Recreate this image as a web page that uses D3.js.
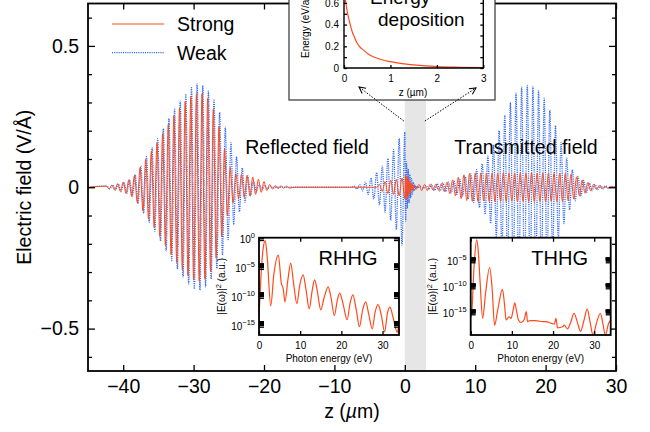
<!DOCTYPE html>
<html>
<head>
<meta charset="utf-8">
<script src="https://cdn.jsdelivr.net/npm/d3@7"></script>
<style>
  body { margin: 0; background: #fff; }
  svg { display: block; }
</style>
</head>
<body>
<svg id="chart" width="650" height="432"></svg>
<script>
// ---- main plot ticks / names
const zTicks = [-40, -30, -20, -10, 0, 10, 20, 30];
const fieldTicks = [-0.5, 0, 0.5];
const seriesNames = ["Strong", "Weak"];
const targetZone = [0, 3];

// field extrema read per half cycle (V/Å): block start z, step, values
const weakBlocks = [
  { z0: -42.3, dz: 0.4, e: [
    0.004, -0.006, 0.008, -0.01, 0.012, -0.015, 0.018, -0.022, 0.027, -0.033,
    0.045, -0.058, 0.075, -0.092, 0.108, -0.124, 0.14, -0.156, 0.172, -0.19,
    0.207, -0.225, 0.243, -0.26, 0.276, -0.29, 0.305, -0.318, 0.33, -0.342,
    0.352, -0.36, 0.366, -0.364, 0.36, -0.352, 0.34, -0.325, 0.308, -0.288,
    0.265, -0.24, 0.213, -0.185, 0.158, -0.132, 0.108, -0.087, 0.068, -0.053,
    0.04, -0.03, 0.022, -0.016, 0.012, -0.009, 0.007, -0.005, 0.004, -0.003] },
  { z0: -7.2, dz: 0.4, e: [
    0.004, -0.006, 0.009, -0.013, 0.018, -0.025, 0.033, -0.042, 0.052, -0.063,
    0.075, -0.088, 0.102, -0.117, 0.133, -0.15, 0.172, -0.205, 0.195] },
  { z0: 0.12, dz: 0.12, e: [
    -0.12, 0.09, -0.075, 0.065, -0.055, 0.045, -0.038, 0.03, -0.024, 0.018,
    -0.013, 0.009, -0.006, 0.004, -0.002] },
  { z0: 2.2, dz: 0.4, e: [
    0.003, -0.004, 0.006, -0.008, 0.01, -0.012, 0.012, -0.014, 0.015, -0.016,
    0.018, -0.02, 0.022, -0.025, 0.028, -0.032, 0.036, -0.041, 0.047, -0.054,
    0.062, -0.072, 0.083, -0.096, 0.11, -0.128, 0.15, -0.175, 0.2, -0.228,
    0.255, -0.28, 0.3, -0.318, 0.333, -0.345, 0.354, -0.359, 0.36, -0.359,
    0.356, -0.35, 0.342, -0.33, 0.315, -0.296, 0.273, -0.247, 0.218, -0.188,
    0.158, -0.129, 0.103, -0.08, 0.062, -0.048, 0.038, -0.03, 0.024, -0.019,
    0.015, -0.012, 0.01, -0.008, 0.006, -0.005, 0.004, -0.003, 0.002] }
];
const weakZeros = [-45, -18.4, -7.6, 30];

const strongBlocks = [
  { z0: -42.4, dz: 0.4, e: [
    0.004, -0.006, 0.008, -0.01, 0.012, -0.015, 0.018, -0.022, 0.026, -0.032,
    0.042, -0.054, 0.069, -0.084, 0.099, -0.113, 0.128, -0.143, 0.158, -0.174,
    0.19, -0.206, 0.222, -0.238, 0.253, -0.267, 0.28, -0.292, 0.303, -0.313,
    0.321, -0.327, 0.331, -0.332, 0.33, -0.324, 0.314, -0.298, 0.276, -0.25,
    0.215, -0.175, 0.135, -0.1, 0.07, -0.055, 0.048, -0.04, 0.045, -0.035,
    0.042, -0.03, 0.036, -0.025, 0.028, -0.018, 0.02, -0.012, 0.01, -0.006,
    0.006, -0.005, 0.005, -0.004, 0.004, -0.003] },
  { z0: -3.6, dz: 0.4, e: [
    0.01, -0.015, 0.02, -0.022, 0.025, -0.025, 0.028, -0.03, 0.032, -0.04] },
  { z0: 0.1, dz: 0.1, e: [
    0.045, -0.042, 0.038, -0.035, 0.03, -0.026, 0.022, -0.018, 0.015, -0.012,
    0.01, -0.008, 0.006] },
  { z0: 1.6, dz: 0.4, e: [
    -0.008, 0.01, -0.012, 0.01, -0.012, 0.01, -0.01, 0.01, -0.011, 0.013,
    -0.015, 0.018, -0.022, 0.026, -0.03, 0.035, -0.04, 0.044, -0.047, 0.049,
    -0.05, 0.05, -0.051, 0.05, -0.049, 0.05, -0.051, 0.05, -0.05, 0.049,
    -0.05, 0.051, -0.05, 0.05, -0.049, 0.05, -0.051, 0.05, -0.05, 0.049,
    -0.05, 0.051, -0.05, 0.05, -0.049, 0.05, -0.051, 0.05, -0.05, 0.049,
    -0.05, 0.05, -0.05, 0.049, -0.048, 0.046, -0.042, 0.037, -0.031, 0.026,
    -0.021, 0.017, -0.013, 0.01, -0.008, 0.006, -0.005, 0.004, -0.003, 0.002] }
];
const strongZeros = [-45, -15.6, -4.0, 30];

// ---- energy deposition inset
const depZ = [0, 0.02, 0.04, 0.07, 0.1, 0.14, 0.18, 0.22, 0.27, 0.33, 0.42, 0.52, 0.63, 0.8, 1.0, 1.25, 1.5, 1.75, 2.0, 2.5, 3.0];
const depE = [0.76, 0.67, 0.6, 0.52, 0.46, 0.39, 0.33, 0.29, 0.24, 0.2, 0.165, 0.13, 0.104, 0.078, 0.058, 0.04, 0.028, 0.019, 0.013, 0.007, 0.003];
const depZTicks = [0, 1, 2, 3];
const depETicks = [0, 0.2, 0.4, 0.6];

// ---- harmonic spectra (photon energy eV, log10 |E(w)|^2)
const photonTicks = [0, 10, 20, 30];
const rhhgEv = [0, 0.5, 1.0, 1.5, 2.0, 2.85, 3.6, 4.7, 5.4, 5.9, 6.3, 7.0, 7.7, 8.4, 9.2, 9.9, 10.7, 11.4, 12.2, 12.9, 13.5, 14.2, 15.0, 15.8, 16.8, 17.5, 18.3, 19.0, 19.6, 20.4, 21.4, 22.1, 22.8, 23.6, 24.4, 25.2, 25.9, 26.7, 27.5, 28.2, 28.9, 29.7, 30.5, 31.2, 31.8, 32.6, 33.6, 34.0];
const rhhgLog = [-13.3, -6, -1.5, -0.1, -3, -11.4, -6, -2.6, -7.4, -8.5, -10.7, -7, -4.0, -7.5, -11, -7.8, -6.05, -8.5, -11.9, -8.8, -6.9, -9, -12.1, -10, -8.1, -10, -13.1, -10.5, -9.2, -11, -13.8, -11, -9.5, -12, -15.0, -12, -10.7, -13, -15.4, -12.5, -11.2, -13, -15.9, -12.6, -11.6, -13.5, -16, -13.8];
const rhhgMajors = [0, -5, -10, -15];

const thhgEv = [0, 0.24, 0.8, 1.44, 1.8, 2.3, 2.9, 3.6, 4.6, 5.2, 5.8, 6.6, 7.7, 8.2, 8.6, 9.3, 9.8, 10.3, 10.7, 11.1, 11.6, 12.2, 13.0, 13.5, 13.8, 14.5, 15.5, 16.5, 17.5, 18.3, 19.5, 20.3, 20.7, 21.1, 22.3, 22.7, 23.5, 24.3, 25.1, 25.9, 26.7, 27.5, 28.3, 29.0, 29.7, 30.6, 31.5, 32.1, 32.7, 33.5, 34.0];
const thhgLog = [-15.5, -14.8, -6, -0.7, -2.5, -9, -15.8, -11, -6.0, -10, -17.1, -14, -10.2, -13, -16.1, -15.5, -15.8, -14.2, -12.8, -14.2, -16.1, -16.6, -16, -14.5, -16.4, -16.2, -16.2, -16.3, -16.4, -16.4, -16.7, -16.9, -15.8, -17.6, -17.4, -17.1, -17.8, -16.5, -14.8, -16.5, -18.3, -16.2, -14.0, -16.5, -19, -16.5, -14.8, -16.8, -19, -16.7, -16.2];
const thhgMajors = [-5, -10, -15];

// ---------------------------------------------------------------
const FONT = "'Liberation Sans', Arial, Helvetica, sans-serif";
const RED = "#ff4a1c";
const BLUE = "#2f66f0";
const MAIN_FS = 19.5;

const svg = d3.select("#chart").style("font-family", FONT);
const defs = svg.append("defs");

const x = d3.scaleLinear().domain([-45, 30]).range([88, 616]);
const y = d3.scaleLinear().domain([-0.65, 0.65]).range([371, 3.5]);
const [X0, X1] = x.range();
const [Y0, Y1] = y.range();

defs.append("clipPath").attr("id", "plotClip")
  .append("rect").attr("x", X0).attr("y", Y1).attr("width", X1 - X0).attr("height", Y0 - Y1);

const expand = (blocks, zeros) => {
  const pts = zeros.map(z => [z, 0]);
  blocks.forEach(b => b.e.forEach((v, i) => pts.push([+(b.z0 + i * b.dz).toFixed(3), v])));
  return pts.sort((a, b) => a[0] - b[0]);
};

// target zone shading
svg.append("rect")
  .attr("x", x(targetZone[0])).attr("y", Y1)
  .attr("width", x(targetZone[1]) - x(targetZone[0])).attr("height", Y0 - Y1)
  .attr("fill", "#e6e6e6");

const fieldLine = d3.line().x(d => x(d[0])).y(d => y(d[1])).curve(d3.curveMonotoneX);

const lines = svg.append("g").attr("clip-path", "url(#plotClip)");
lines.append("path")
  .attr("d", fieldLine(expand(weakBlocks, weakZeros)))
  .attr("fill", "none").attr("stroke", BLUE).attr("stroke-width", 1.3)
  .attr("stroke-dasharray", "1.1,1.1");
lines.append("path")
  .attr("d", fieldLine(expand(strongBlocks, strongZeros)))
  .attr("fill", "none").attr("stroke", RED).attr("stroke-width", 1);

// region labels
svg.append("text").attr("x", 307).attr("y", 154).attr("text-anchor", "middle")
  .attr("font-size", MAIN_FS).text("Reflected field");
svg.append("text").attr("x", 526).attr("y", 154).attr("text-anchor", "middle")
  .attr("font-size", MAIN_FS).text("Transmitted field");

// ---- axes of main plot
const styleAxis = (g, size) => {
  g.select(".domain").remove();
  g.selectAll("line").attr("stroke", "#000").attr("stroke-width", 1.3);
  g.selectAll("text").attr("font-size", size).attr("font-family", FONT).attr("fill", "#000");
};
const tenths = d3.range(-6, 7).map(i => i / 10);
const minorY = tenths.filter(v => !fieldTicks.some(t => Math.abs(t - v) < 1e-9));
const fmtField = d => d === 0 ? "0" : d3.format(".1f")(d);

svg.append("g").attr("transform", `translate(${X0},0)`)
  .call(d3.axisLeft(y).tickValues(minorY).tickSize(-4).tickFormat(""))
  .call(g => styleAxis(g, MAIN_FS));
svg.append("g").attr("transform", `translate(${X0},0)`)
  .call(d3.axisLeft(y).tickValues(fieldTicks).tickSize(-7).tickPadding(9).tickFormat(fmtField))
  .call(g => styleAxis(g, MAIN_FS));
svg.append("g").attr("transform", `translate(${X1},0)`)
  .call(d3.axisRight(y).tickValues(minorY).tickSize(-4).tickFormat(""))
  .call(g => styleAxis(g, MAIN_FS));
svg.append("g").attr("transform", `translate(${X1},0)`)
  .call(d3.axisRight(y).tickValues(fieldTicks).tickSize(-7).tickFormat(""))
  .call(g => styleAxis(g, MAIN_FS));
svg.append("g").attr("transform", `translate(0,${Y0})`)
  .call(d3.axisBottom(x).tickValues(zTicks).tickSize(-6).tickPadding(8).tickFormat(d3.format("d")))
  .call(g => styleAxis(g, MAIN_FS));
svg.append("g").attr("transform", `translate(0,${Y1})`)
  .call(d3.axisTop(x).tickValues(zTicks).tickSize(-6).tickFormat(""))
  .call(g => styleAxis(g, MAIN_FS));

svg.append("rect").attr("x", X0).attr("y", Y1).attr("width", X1 - X0).attr("height", Y0 - Y1)
  .attr("fill", "none").attr("stroke", "#000").attr("stroke-width", 1.8);

svg.append("text")
  .attr("transform", `translate(24,${(Y0 + Y1) / 2}) rotate(-90)`)
  .attr("text-anchor", "middle").attr("dy", "0.35em").attr("font-size", MAIN_FS)
  .text("Electric field (V/Å)");
const zl = svg.append("text").attr("x", (X0 + X1) / 2).attr("y", 418)
  .attr("text-anchor", "middle").attr("font-size", MAIN_FS);
zl.append("tspan").text("z (");
zl.append("tspan").attr("font-style", "italic").text("µ");
zl.append("tspan").text("m)");

// ---- legend
const legend = svg.append("g");
seriesNames.forEach((name, i) => {
  const ly = 24 + i * 28.7;
  legend.append("line").attr("x1", 112).attr("x2", 164).attr("y1", ly).attr("y2", ly)
    .attr("stroke", i === 0 ? RED : BLUE).attr("stroke-width", 1.2)
    .attr("stroke-dasharray", i === 0 ? null : "1.1,1.1");
  legend.append("text").attr("x", 177).attr("y", ly).attr("dy", "0.35em")
    .attr("font-size", MAIN_FS).text(name);
});

// ---- energy deposition inset
const dep = svg.append("g");
dep.append("rect").attr("x", 289).attr("y", -20).attr("width", 206).attr("height", 120)
  .attr("fill", "#fff").attr("stroke", "#333").attr("stroke-width", 1.2);
const xe = d3.scaleLinear().domain([0, 3]).range([344, 483.3]);
const ye = d3.scaleLinear().domain([0, 0.8]).range([68, -18.8]);
defs.append("clipPath").attr("id", "depClip").append("rect")
  .attr("x", xe(0)).attr("y", ye(0.8)).attr("width", xe(3) - xe(0)).attr("height", ye(0) - ye(0.8));
dep.append("path")
  .attr("d", d3.line().x((d, i) => xe(depZ[i])).y(d => ye(d)).curve(d3.curveMonotoneX)(depE))
  .attr("clip-path", "url(#depClip)")
  .attr("fill", "none").attr("stroke", RED).attr("stroke-width", 1.2);
const depTenths = d3.range(0, 9).map(i => i / 10);
dep.append("g").attr("transform", `translate(${xe(0)},0)`)
  .call(d3.axisLeft(ye).tickValues(depTenths).tickSize(-3).tickFormat(""))
  .call(g => styleAxis(g, 10));
dep.append("g").attr("transform", `translate(${xe(0)},0)`)
  .call(d3.axisLeft(ye).tickValues(depETicks).tickSize(0).tickPadding(5)
    .tickFormat(d => d === 0 ? "0" : d3.format(".1f")(d)))
  .call(g => styleAxis(g, 10));
dep.append("g").attr("transform", `translate(${xe(3)},0)`)
  .call(d3.axisRight(ye).tickValues(depTenths).tickSize(-3).tickFormat(""))
  .call(g => styleAxis(g, 10));
dep.append("g").attr("transform", `translate(0,${ye(0)})`)
  .call(d3.axisBottom(xe).tickValues(depZTicks).tickSize(-3).tickPadding(7).tickFormat(d3.format("d")))
  .call(g => styleAxis(g, 10));
dep.append("path")
  .attr("d", `M${xe(0)},${ye(0.8)}V${ye(0)}H${xe(3)}V${ye(0.8)}`)
  .attr("fill", "none").attr("stroke", "#000").attr("stroke-width", 1.4);
dep.append("text").attr("transform", `translate(305,58) rotate(-90)`)
  .attr("dy", "0.35em").attr("font-size", 10).text("Energy (eV/atom)");
dep.append("text").attr("x", 413).attr("y", 92).attr("dy", "0.35em")
  .attr("text-anchor", "middle").attr("font-size", 10).text("z (µm)");
dep.append("text").attr("x", 370).attr("y", 4).attr("font-size", 19).text("Energy");
dep.append("text").attr("x", 378).attr("y", 26).attr("font-size", 19).text("deposition");

// arrows from the target to the inset
defs.append("marker").attr("id", "arrowHead").attr("viewBox", "0 0 10 10")
  .attr("refX", 9).attr("refY", 5).attr("markerWidth", 8).attr("markerHeight", 8)
  .attr("markerUnits", "userSpaceOnUse").attr("orient", "auto")
  .append("path").attr("d", "M1,1L9,5L1,9").attr("fill", "none")
  .attr("stroke", "#000").attr("stroke-width", 1.3);
[[x(targetZone[0]) - 1, 121, 359, 87], [x(targetZone[1]) - 1, 121, 476, 88]].forEach(a => {
  svg.append("line").attr("x1", a[0]).attr("y1", a[1]).attr("x2", a[2]).attr("y2", a[3])
    .attr("stroke", "#000").attr("stroke-width", 1).attr("stroke-dasharray", "1.5,1.5")
    .attr("marker-end", "url(#arrowHead)");
});

// ---- spectrum insets
function spectrumInset(id, left, ev, logv, yDomExp, majors, title) {
  const g = svg.append("g");
  const xs = d3.scaleLinear().domain([0, 34]).range([left, left + 140]);
  const ys = d3.scaleLog().domain(yDomExp.map(e => Math.pow(10, e))).range([335, 237.7]);
  const [t, b] = [ys.range()[1], ys.range()[0]];
  g.append("rect").attr("x", left).attr("y", t).attr("width", 140).attr("height", b - t)
    .attr("fill", "#fff");
  defs.append("clipPath").attr("id", id).append("rect")
    .attr("x", left).attr("y", t).attr("width", 140).attr("height", b - t);
  g.append("path")
    .attr("d", d3.line().x((d, i) => xs(ev[i])).y(d => ys(Math.pow(10, d))).curve(d3.curveMonotoneX)(logv))
    .attr("clip-path", `url(#${id})`)
    .attr("fill", "none").attr("stroke", RED).attr("stroke-width", 1.2);
  // clustered log ticks
  const minor = [];
  majors.forEach(e => d3.range(1, 10).forEach(k => {
    const v = k * Math.pow(10, e);
    if (v <= ys.domain()[1] && v >= ys.domain()[0]) minor.push(v);
  }));
  g.append("g").attr("transform", `translate(${left},0)`)
    .call(d3.axisLeft(ys).tickValues(minor).tickSize(-5).tickFormat(""))
    .call(a => styleAxis(a, 10));
  g.append("g").attr("transform", `translate(${left + 140},0)`)
    .call(d3.axisRight(ys).tickValues(minor).tickSize(-5).tickFormat(""))
    .call(a => styleAxis(a, 10));
  g.append("g").attr("transform", `translate(0,${b})`)
    .call(d3.axisBottom(xs).tickValues(photonTicks).tickSize(-4).tickPadding(7))
    .call(a => styleAxis(a, 10));
  g.append("g").attr("transform", `translate(0,${t})`)
    .call(d3.axisTop(xs).tickValues(photonTicks).tickSize(-4).tickFormat(""))
    .call(a => styleAxis(a, 10));
  g.append("rect").attr("x", left).attr("y", t).attr("width", 140).attr("height", b - t)
    .attr("fill", "none").attr("stroke", "#000").attr("stroke-width", 1.8);
  // decade labels
  majors.forEach(e => {
    const lt = g.append("text").attr("x", left - 4).attr("y", ys(Math.pow(10, e)) + 3)
      .attr("text-anchor", "end").attr("font-size", 10);
    lt.append("tspan").text("10");
    lt.append("tspan").attr("dy", -5).attr("font-size", 7.5)
      .text(e === 0 ? "0" : "\u2212" + Math.abs(e));
  });
  g.append("text").attr("x", left + 70).attr("y", 358).attr("dy", "0.35em")
    .attr("text-anchor", "middle").attr("font-size", 10).text("Photon energy (eV)");
  const yl = g.append("text")
    .attr("transform", `translate(${left - 38},${(t + b) / 2}) rotate(-90)`)
    .attr("text-anchor", "middle").attr("dy", "0.35em").attr("font-size", 10);
  yl.append("tspan").text("|E(ω)|");
  yl.append("tspan").attr("dy", -4).attr("font-size", 7.5).text("2");
  yl.append("tspan").attr("dy", 4).text(" (a.u.)");
  g.append("text").attr("x", left + 89).attr("y", 265).attr("text-anchor", "middle")
    .attr("font-size", 20).text(title);
}

spectrumInset("rClip", 259, rhhgEv, rhhgLog, [-16.44, 0.4], rhhgMajors, "RHHG");
spectrumInset("tClip", 470.7, thhgEv, thhgLog, [-18.98, -0.27], thhgMajors, "THHG");
</script>
</body>
</html>
